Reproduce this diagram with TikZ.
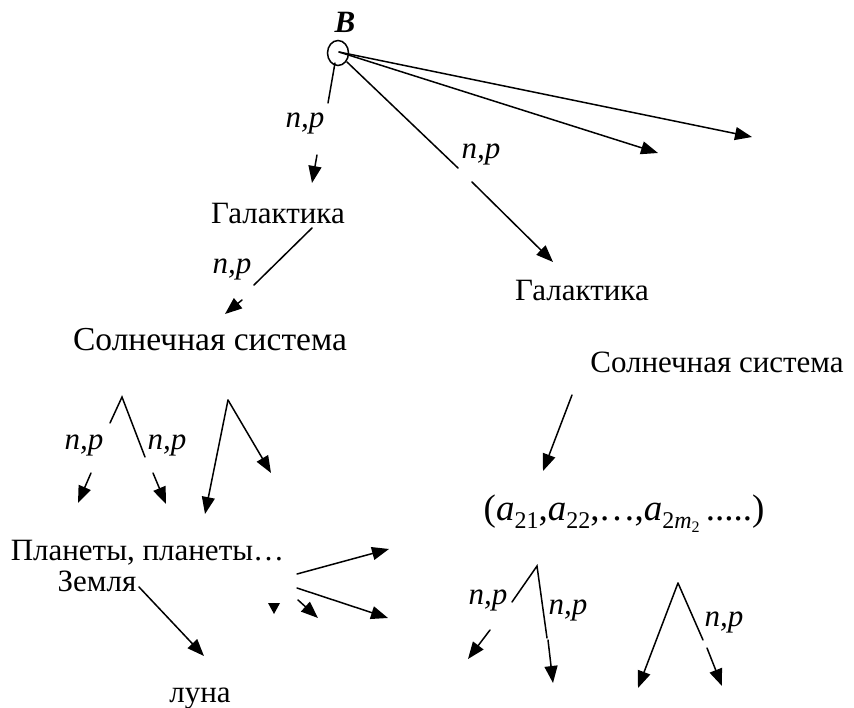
\documentclass[tikz,border=0pt]{standalone}
\usepackage{fontspec}
\setmainfont{Liberation Serif}
\usetikzlibrary{arrows.meta,shapes.geometric}

\newcommand\asub[1]{\textit{a}\raisebox{-0.22em}{\fontsize{24bp}{24bp}\selectfont #1}}
\newcommand\msub{\textit{m}\raisebox{-0.2em}{\fontsize{16bp}{16bp}\selectfont 2}}

\tikzset{
  txt/.style={font=\fontsize{31bp}{36bp}\selectfont, inner sep=0pt},
  np/.style={font=\fontsize{31bp}{36bp}\selectfont\itshape, inner sep=0pt},
  arr/.style={-{Triangle[length=17bp,width=13bp]}},
}

\begin{document}
\begin{tikzpicture}[x=1bp, y=-1bp, line width=1.5bp, line cap=round]
  \useasboundingbox (0,0) rectangle (854,708);
  % source of the cascade
  \node[draw, ellipse, minimum width=21bp, minimum height=25bp, inner sep=0pt] (src) at (338,53) {};
  \node[txt] (B) at (345,22) {\textbf{\textit{B}}};
  \coordinate (o) at (339,52);
  \draw[arr] (o) -- (752,137);
  \draw[arr] (o) -- (658,153);
  % texts
  \node[txt, anchor=base] (gal1) at (278,223) {Галактика};
  \node[txt, font=\fontsize{33.5bp}{38bp}\selectfont, anchor=base] (sol1) at (210,350) {Солнечная система};
  \node[txt, anchor=base] (gal2) at (582,300) {Галактика};
  \node[txt, anchor=base] (sol2) at (717,372) {Солнечная система};
  \node[txt, anchor=base west] (plan) at (10,560) {Планеты, планеты…};
  \node[txt, anchor=base east] (zem) at (137,591) {Земля};
  \node[txt, anchor=base] (luna) at (200,702) {луна};
  \node[txt, font=\fontsize{37bp}{42bp}\selectfont, anchor=base] (seq) at (624,520)
    {(\asub{21},\asub{22},\kern-1pt…\kern-1pt,\asub{2\msub}\,.....)};
  % n,p labels
  \node[np] (np1) at (305,123) {n,p};
  \node[np] (np2) at (481,154) {n,p};
  \node[np] (np3) at (232,269) {n,p};
  \node[np] (np4) at (84,445) {n,p};
  \node[np] (np5) at (167,445) {n,p};
  \node[np] (np6) at (488,600) {n,p};
  \node[np] (np7) at (568,610) {n,p};
  \node[np] (np8) at (724,622) {n,p};
  % B -> galaxies
  \draw (335,63) -- (328,103);
  \draw[arr] (317,155) -- (312,183);
  \draw (347,62) -- (458,168);
  \draw[arr] (472,182) -- (553,262);
  % galaxy -> solar system
  \draw (312,228) -- (254,285);
  \draw[arr] (242,300) -- (225,314);
  \draw[arr] (572,395) -- (543,471);
  % left branchings
  \coordinate (t1) at (122,397);
  \draw (110,423) -- (t1) -- (145,457);
  \draw[arr] (91,473) -- (78,503);
  \draw[arr] (153,473) -- (166,504);
  \coordinate (t2) at (228,400);
  \draw[arr] (t2) -- (205,514);
  \draw[arr] (t2) -- (271,473);
  % planets
  \draw[arr] (297,574) -- (389,549);
  \draw[arr] (297,588) -- (388,618);
  \draw[arr] (298,600) -- (318,618);
  \fill (268,603) -- (280,603) -- (274,614) -- cycle;
  \draw[arr] (zem.base east) ++(2,-4) -- (204,656);
  % right branchings
  \coordinate (t3) at (537,566);
  \draw (512,602) -- (t3) -- (547,638);
  \draw[arr] (490,630) -- (468,659);
  \draw[arr] (548,640) -- (553,683);
  \coordinate (t4) at (678,583);
  \draw[arr] (t4) -- (638,688);
  \draw (t4) -- (703,640);
  \draw[arr] (707,648) -- (722,686);
\end{tikzpicture}
\end{document}
